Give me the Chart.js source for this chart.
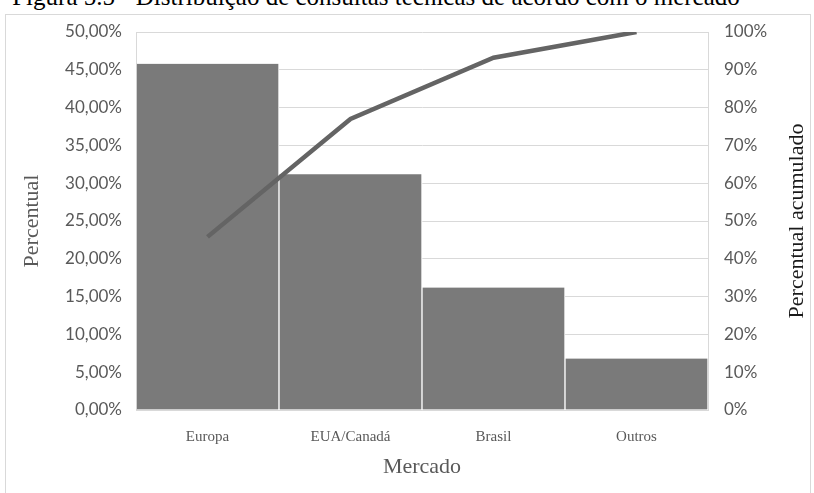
<!DOCTYPE html>
<html lang="pt">
<head>
<meta charset="UTF-8" />
<title>Distribuição de consultas técnicas</title>
<script src="https://cdn.jsdelivr.net/npm/chart.js"></script>
<style>
    html, body {
        margin: 0;
        padding: 0;
        background: #ffffff;
        overflow: hidden;
        width: 814px;
        height: 493px;
    }
    .fig-title {
        position: absolute;
        left: 0;
        top: -17px;
        width: 814px;
        text-align: center;
        font-family: "Liberation Serif", "DejaVu Serif", serif;
        font-size: 25px;
        line-height: normal;
        color: #000;
        white-space: nowrap;
        margin-left: -31px;
    }
    .frame {
        position: absolute;
        left: 5px;
        top: 14px;
        width: 806px;
        height: 520px;
        border: 1px solid #d9d9d9;
        box-sizing: border-box;
    }
    .chart-box {
        position: absolute;
        left: 0;
        top: 0;
        width: 814px;
        height: 493px;
    }
</style>
</head>
<body>
<div class="fig-title">Figura 5.5 - Distribuição de consultas técnicas de acordo com o mercado</div>
<div class="frame"></div>
<div class="chart-box"><canvas id="paretoChart" width="814" height="493"></canvas></div>

<script>
    // Mercados e percentual de consultas em cada um
    const mercados = ['Europa', 'EUA/Canadá', 'Brasil', 'Outros'];
    const percentual = [45.8, 31.2, 16.2, 6.8];
    const acumulado = [45.8, 77.0, 93.2, 100.0];

    const cinzaTexto = '#595959';
    const cinzaGrade = '#d9d9d9';
    const serif = '"Liberation Serif", "DejaVu Serif", serif';
    const sans = 'Lato, "Open Sans", sans-serif';

    // Título do eixo direito lido de baixo para cima (o Chart.js gira o da direita ao contrário)
    const tituloDireito = {
        id: 'tituloDireito',
        afterDraw(chart) {
            const area = chart.chartArea;
            const c = chart.ctx;
            c.save();
            c.translate(chart.width - 17, (area.top + area.bottom) / 2);
            c.rotate(-Math.PI / 2);
            c.font = '22px ' + serif;
            c.fillStyle = '#1a1a1a';
            c.textAlign = 'center';
            c.textBaseline = 'middle';
            c.fillText('Percentual acumulado', 0, 0);
            c.restore();
        }
    };

    const ctx = document.getElementById('paretoChart').getContext('2d');
    new Chart(ctx, {
        data: {
            labels: mercados,
            datasets: [
                {
                    type: 'line',
                    label: 'Percentual acumulado',
                    data: acumulado,
                    yAxisID: 'yAcum',
                    borderColor: '#646464',
                    borderWidth: 4.5,
                    pointRadius: 0,
                    tension: 0,
                    fill: false,
                    order: 0
                },
                {
                    type: 'bar',
                    label: 'Percentual',
                    data: percentual,
                    yAxisID: 'y',
                    backgroundColor: '#7a7a7a',
                    borderColor: '#ffffff',
                    borderWidth: { top: 0, bottom: 0, left: 1, right: 1 },
                    borderSkipped: false,
                    barPercentage: 1.0,
                    categoryPercentage: 1.0,
                    order: 1
                }
            ]
        },
        options: {
            responsive: false,
            animation: false,
            layout: { padding: { top: 32, left: 0, right: 0, bottom: 0 } },
            plugins: {
                legend: { display: false },
                tooltip: { enabled: false }
            },
            scales: {
                x: {
                    grid: { display: false, drawTicks: false },
                    border: { display: true, color: cinzaGrade },
                    ticks: {
                        color: cinzaTexto,
                        padding: 18,
                        font: { family: serif, size: 15 }
                    },
                    title: {
                        display: true,
                        text: 'Mercado',
                        color: cinzaTexto,
                        font: { family: serif, size: 22 },
                        padding: { top: 0, bottom: 13 }
                    },
                    afterFit: s => { s.height = 83; }
                },
                y: {
                    position: 'left',
                    min: 0,
                    max: 50,
                    grid: { color: cinzaGrade, drawTicks: false },
                    border: { display: true, color: cinzaGrade },
                    ticks: {
                        stepSize: 5,
                        color: cinzaTexto,
                        padding: 14,
                        font: { family: sans, size: 17 },
                        callback: v => v.toFixed(2).replace('.', ',') + '%'
                    },
                    title: {
                        display: true,
                        text: 'Percentual',
                        color: cinzaTexto,
                        font: { family: serif, size: 22 },
                        padding: { top: 19, bottom: 0 }
                    },
                    afterFit: s => { s.width = 136; }
                },
                yAcum: {
                    position: 'right',
                    min: 0,
                    max: 100,
                    grid: { display: false, drawTicks: false },
                    border: { display: true, color: cinzaGrade },
                    ticks: {
                        stepSize: 10,
                        color: cinzaTexto,
                        padding: 16,
                        font: { family: sans, size: 17 },
                        callback: v => v + '%'
                    },
                    afterFit: s => { s.width = 106; }
                }
            }
        },
        plugins: [tituloDireito]
    });
</script>
</body>
</html>
